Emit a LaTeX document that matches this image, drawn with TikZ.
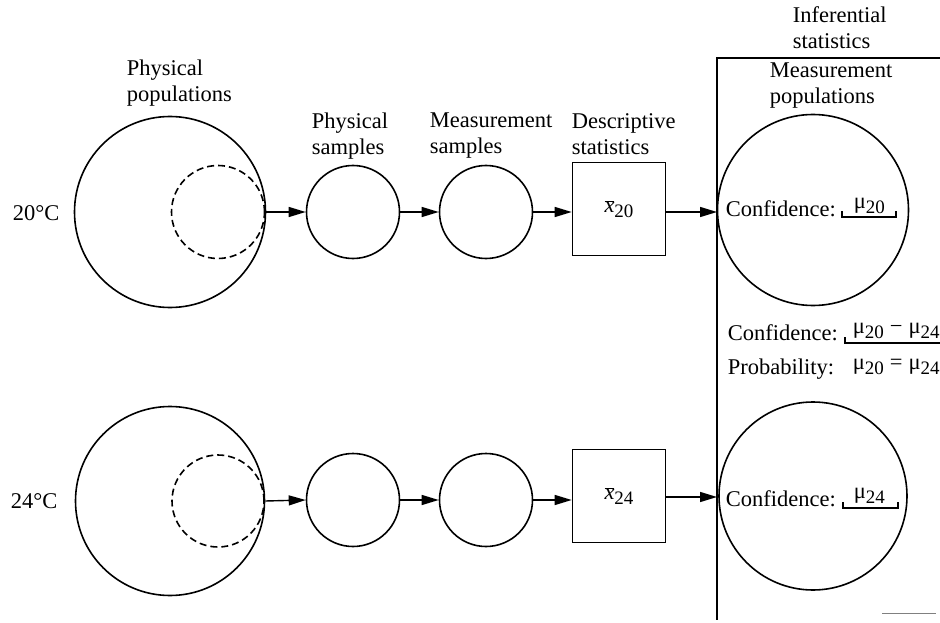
\documentclass[tikz,border=0pt]{standalone}
\usepackage{fontspec}
\setmainfont{Liberation Serif}
\usetikzlibrary{arrows.meta}
\newcommand{\mysb}[1]{\raisebox{-0.45ex}{\fontsize{19}{19}\selectfont #1}}
\newcommand{\xbarr}{$\overline{\mbox{\itshape x}}$}
\begin{document}
\begin{tikzpicture}[x=1pt,y=-1pt,
  font=\fontsize{22.5}{26}\selectfont,
  line width=1.6pt,
  circ/.style={circle,draw,inner sep=0pt,minimum size=#1},
  dcirc/.style={circle,draw,dashed,dash pattern=on 7pt off 4pt,inner sep=0pt,minimum size=#1},
  sbox/.style={draw,inner sep=0pt,minimum width=93pt,minimum height=93pt},
  lbl/.style={align=left,anchor=west,inner sep=0pt},
  txt/.style={anchor=west,inner sep=0pt},
  arr/.style={-{Triangle[length=17pt,width=10pt]},line width=1.4pt},
  brk/.style={line width=1.3pt}]
\useasboundingbox (0,0) rectangle (940,623);

% labels
\node[lbl] (lpp) at (126,83) {Physical\\populations};
\node[lbl] (lps) at (311,136) {Physical\\samples};
\node[lbl] (lms) at (429,136) {Measurement\\samples};
\node[lbl] (lds) at (571,134) {Descriptive\\statistics};
\node[lbl] (lis) at (792,28) {Inferential\\statistics};
\node[lbl] (lmp) at (769,86) {Measurement\\populations};

\node[txt] (t20) at (12,213) {20°C};
\node[txt] (t24) at (10,501) {24°C};

% top row
\node[circ=191pt] (P1) at (170,212) {};
\node[dcirc=93pt] (D1) at (218,212) {};
\node[circ=93pt] (S1) at (353,212) {};
\node[circ=93pt] (M1) at (486,212) {};
\node[sbox] (B1) at (619,209) {\xbarr\mysb{20}};
\node[circ=191pt] (R1) at (813,210) {};

% bottom row
\node[circ=189pt] (P2) at (170,501) {};
\node[dcirc=92pt] (D2) at (218,501) {};
\node[circ=93pt] (S2) at (353,500) {};
\node[circ=93pt] (M2) at (486,500) {};
\node[sbox] (B2) at (619,496) {\xbarr\mysb{24}};
\node[circ=188pt] (R2) at (813,496) {};

% frame
\coordinate (ft) at (717,58);
\coordinate (fr) at (940,58);
\coordinate (fb) at (717,620);
\draw[line width=1.6pt] (fr) -- (ft) -- (fb);
\coordinate (e1) at (717,212);
\coordinate (e2) at (717,497);

% arrows
\draw[arr] (P1.east) -- (S1.west);
\draw[arr] (S1.east) -- (M1.west);
\draw[arr] (M1.east) -- (B1.west |- M1.east);
\draw[arr] (B1.east |- e1) -- (e1);
\draw[arr] (P2.east) -- (S2.west);
\draw[arr] (S2.east) -- (M2.west);
\draw[arr] (M2.east) -- (B2.west |- M2.east);
\draw[arr] (B2.east |- e2) -- (e2);

% inferential texts
\node[txt] (c1) at (725,209) {Confidence:};
\node[txt] (m1) at (853,206) {μ\mysb{20}};
\draw[brk] (842,211) -- (842,217) -- (896,217) -- (896,211);

\node[txt] (c3) at (727,333) {Confidence:};
\node[txt] (m3) at (852,331) {μ\mysb{20}\hspace{6pt}−\hspace{6pt}μ\mysb{24}};
\draw[brk] (845,337) -- (845,343) -- (940,343);

\node[txt] (c4) at (727,369) {Probability:};
\node[txt] (m4) at (852,367) {μ\mysb{20}\hspace{6pt}=\hspace{6pt}μ\mysb{24}};

\node[txt] (c2) at (725,499) {Confidence:};
\node[txt] (m2) at (853,496) {μ\mysb{24}};
\draw[brk] (843,502) -- (843,508) -- (898,508) -- (898,502);

\draw[line width=0.8pt,gray] (882,613) -- (936,613);
\end{tikzpicture}
\end{document}
